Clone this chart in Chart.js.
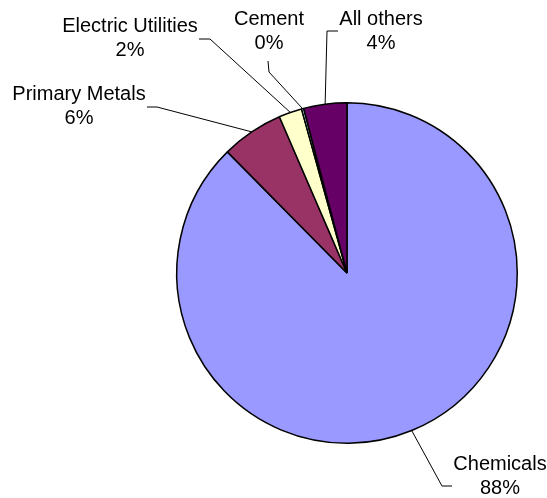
<!DOCTYPE html>
<html>
<head>
<meta charset="utf-8">
<title>Emissions by sector</title>
<script src="https://cdn.jsdelivr.net/npm/chart.js@4/dist/chart.umd.min.js"></script>
<style>
  html, body { margin: 0; padding: 0; background: #fff; }
  canvas { display: block; }
</style>
</head>
<body>
<canvas id="pieChart" width="547" height="498"></canvas>
<script>
// ===== DATA =====
const sectors = ['Chemicals', 'Primary Metals', 'Electric Utilities', 'Cement', 'All others'];
const shares = [87.6, 5.9, 2.2, 0.2, 4.1];
const sliceColors = ['#9999FF', '#993366', '#FFFFCC', '#CCFFFF', '#660066'];

// label placement: text centre x, first baseline y, elbow and end of leader line
const labelLayout = [
    { tx: 500, ty: 470, elbow: [442, 486], end: [452, 486] },
    { tx: 79,  ty: 100, elbow: [157, 107], end: [147, 107] },
    { tx: 130, ty: 32,  elbow: [210, 39],  end: [199, 39] },
    { tx: 269, ty: 25,  elbow: [269, 72],  end: [268, 61] },
    { tx: 381, ty: 25,  elbow: [327, 31],  end: [338, 31] }
];

// ===== LABEL PLUGIN =====
// draws "name / xx%" labels with leader lines from each slice's outer edge
const sliceLabels = {
    id: 'sliceLabels',
    afterDatasetsDraw(chart) {
        const ctx = chart.ctx;
        const meta = chart.getDatasetMeta(0);
        const total = shares.reduce((a, b) => a + b, 0);

        ctx.save();
        ctx.font = '20px "Liberation Sans", Arial, sans-serif';
        ctx.textAlign = 'center';
        ctx.textBaseline = 'alphabetic';

        meta.data.forEach((arc, i) => {
            const p = arc.getProps(['x', 'y', 'startAngle', 'endAngle', 'outerRadius'], true);
            const mid = (p.startAngle + p.endAngle) / 2;
            const sx = p.x + Math.cos(mid) * p.outerRadius;
            const sy = p.y + Math.sin(mid) * p.outerRadius;
            const lay = labelLayout[i];

            ctx.strokeStyle = '#000';
            ctx.lineWidth = 1;
            ctx.beginPath();
            ctx.moveTo(sx, sy);
            ctx.lineTo(lay.elbow[0], lay.elbow[1]);
            ctx.lineTo(lay.end[0], lay.end[1]);
            ctx.stroke();

            ctx.fillStyle = '#000';
            ctx.fillText(sectors[i], lay.tx, lay.ty);
            ctx.fillText(Math.round(shares[i] / total * 100) + '%', lay.tx, lay.ty + 24);
        });
        ctx.restore();
    }
};

// ===== CHART =====
new Chart(document.getElementById('pieChart').getContext('2d'), {
    type: 'pie',
    data: {
        labels: sectors,
        datasets: [{
            data: shares,
            backgroundColor: sliceColors,
            borderColor: '#000',
            borderWidth: 1.5
        }]
    },
    options: {
        responsive: false,
        animation: false,
        layout: {
            padding: { left: 176, right: 29, top: 102, bottom: 54 }
        },
        plugins: {
            legend: { display: false },
            tooltip: { enabled: false },
            title: { display: false }
        }
    },
    plugins: [sliceLabels]
});
</script>
</body>
</html>
